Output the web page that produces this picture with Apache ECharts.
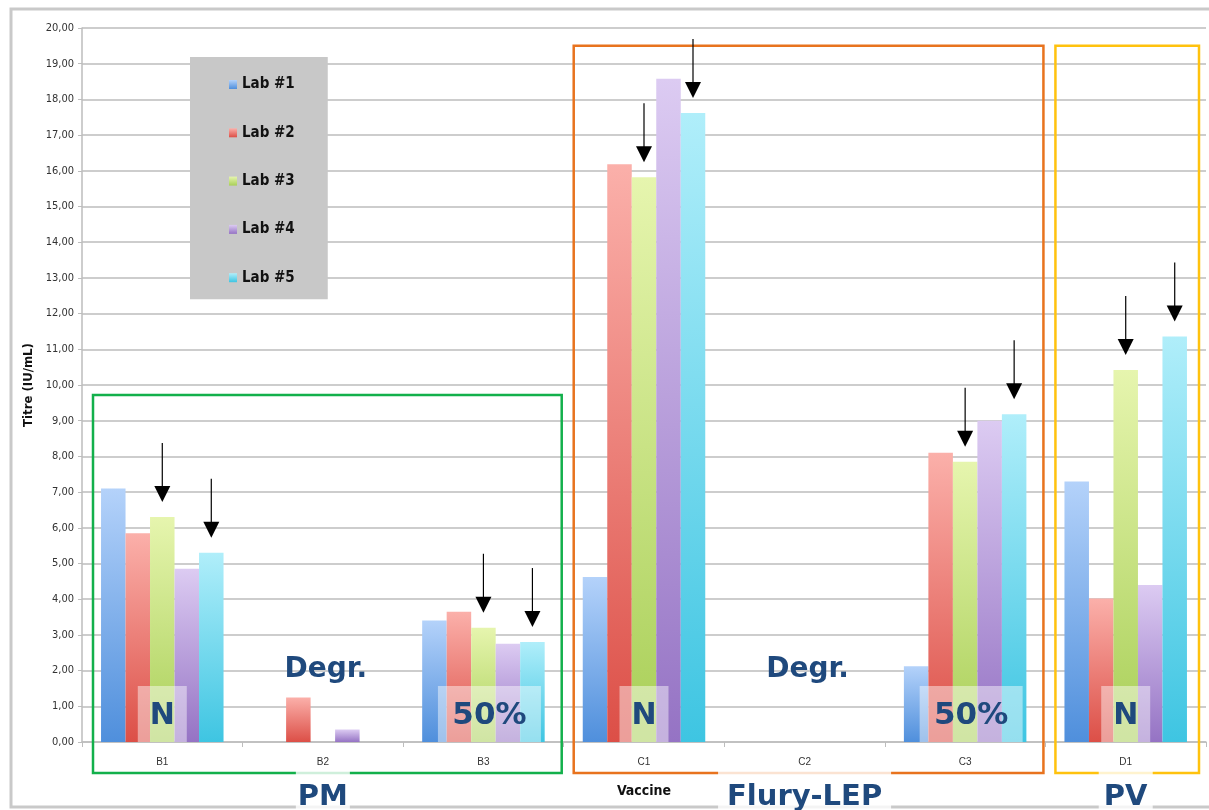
<!DOCTYPE html>
<html><head><meta charset="utf-8">
<script src="https://cdn.jsdelivr.net/npm/echarts@6/dist/echarts.min.js"></script>
<style>html,body{margin:0;padding:0;background:#fff}#c{width:1209px;height:810px}</style>
</head><body><div id="c"></div>
<script>
const categories = ['B1', 'B2', 'B3', 'C1', 'C2', 'C3', 'D1'];
const seriesNames = ['Lab #1', 'Lab #2', 'Lab #3', 'Lab #4', 'Lab #5'];
const lab1 = [7.10, 0, 3.40, 4.62, 0, 2.12, 7.30];
const lab2 = [5.85, 1.25, 3.65, 16.18, 0, 8.10, 4.02];
const lab3 = [6.30, 0, 3.20, 15.82, 0, 7.85, 10.42];
const lab4 = [4.85, 0.35, 2.75, 18.58, 0, 9.00, 4.40];
const lab5 = [5.30, 0, 2.80, 17.62, 0, 9.18, 11.36];
const yAxisName = 'Titre (IU/mL)';
// arrows: [category index, series index]
const arrows = [[0, 2], [0, 4], [2, 2], [2, 4], [3, 2], [3, 4], [5, 2], [5, 4], [6, 2], [6, 4]];
// in-bar notes: [category index, text]
const barNotes = [[0, 'N'], [2, '50%'], [3, 'N'], [5, '50%'], [6, 'N']];
const degrNotes = [[1, 'Degr.'], [4, 'Degr.']];
// groups: [first category, last category, name, top value]
const groups = [[0, 2, 'PM', 9.72], [3, 5, 'Flury-LEP', 19.5], [6, 6, 'PV', 19.5]];
const groupColors = ['#13b04b', '#e8731e', '#ffc20e'];

const allData = [lab1, lab2, lab3, lab4, lab5];
const grads = [
  ['#b4d2fa', '#4f8fdc'],
  ['#fbb0aa', '#dc4f47'],
  ['#e6f5ae', '#a9cf58'],
  ['#dccbf2', '#9573c4'],
  ['#b0eefa', '#3ec5e2']
];
const FONT_NARROW = '"Liberation Sans Narrow", "DejaVu Sans Condensed", sans-serif';
const BAR_W = 24.5;

const chart = echarts.init(document.getElementById('c'), null, {renderer: 'canvas'});
const grid = {left: 82, right: 3, top: 28, bottom: 68};

chart.setOption({
  animation: false,
  backgroundColor: '#ffffff',
  grid: grid,
  legend: {
    orient: 'vertical', left: 190, top: 57,
    backgroundColor: '#c8c8c8',
    padding: [20, 33, 14, 39],
    itemGap: 33.3, itemWidth: 8, itemHeight: 9,
    icon: 'rect',
    textStyle: {fontFamily: FONT_NARROW, fontWeight: 'bold', fontSize: 15, color: '#111'},
    data: seriesNames
  },
  xAxis: {
    type: 'category', data: categories,
    axisLine: {lineStyle: {color: '#bdbdbd', width: 1.5}},
    axisTick: {show: true, length: 5, lineStyle: {color: '#bdbdbd'}},
    axisLabel: {fontSize: 10, color: '#333', margin: 15, fontFamily: 'Liberation Sans, sans-serif'}
  },
  yAxis: {
    type: 'value', min: 0, max: 20, interval: 1,
    name: yAxisName, nameLocation: 'middle', nameGap: 45, nameRotate: 90,
    nameTextStyle: {fontWeight: 'bold', fontSize: 13, color: '#111', fontFamily: FONT_NARROW},
    axisLine: {show: true, lineStyle: {color: '#bdbdbd', width: 1.5}},
    axisTick: {show: true, length: 4, lineStyle: {color: '#bdbdbd'}},
    axisLabel: {fontSize: 11, color: '#333', margin: 8, fontFamily: FONT_NARROW,
      formatter: v => v.toFixed(2).replace('.', ',')},
    splitLine: {lineStyle: {color: '#cdcdcd', width: 2}}
  },
  series: allData.map((d, i) => ({
    name: seriesNames[i], type: 'bar', data: d,
    barWidth: BAR_W, barGap: '0%',
    itemStyle: {
      color: new echarts.graphic.LinearGradient(0, 0, 0, 1, [
        {offset: 0, color: grads[i][0]}, {offset: 1, color: grads[i][1]}
      ])
    }
  }))
});

function px(cat, val) { return chart.convertToPixel({xAxisIndex: 0, yAxisIndex: 0}, [cat, val]); }
const plotW = 1209 - grid.left - grid.right;
const catW = plotW / categories.length;
const g = [];

// frame
g.push({type: 'polyline', shape: {points: [[1209, 9], [11, 9], [11, 807], [1209, 807]]},
  style: {stroke: '#c9c9c9', lineWidth: 3, fill: null}, z: 1});

// group boxes
groups.forEach((gr, k) => {
  const x0 = px(gr[0], 0)[0] - catW / 2;
  const x1 = px(gr[1], 0)[0] + catW / 2;
  const yTop = px(gr[0], gr[3])[1];
  const left = x0 + (k === 0 ? 11 : 10);
  const right = x1 - (k === 2 ? 7 : 2);
  g.push({type: 'rect', shape: {x: left, y: yTop, width: right - left, height: 773 - yTop},
    style: {stroke: groupColors[k], lineWidth: 2.5, fill: null}, z: 10});
  const cx = (px(gr[0], 0)[0] + px(gr[1], 0)[0]) / 2;
  const w = gr[2].length * 17 + 20;
  g.push({type: 'rect', shape: {x: cx - w / 2, y: 769, width: w, height: 41},
    style: {fill: 'rgba(255,255,255,0.8)'}, z: 11});
  g.push({type: 'text', x: cx, y: 797, style: {text: gr[2], fill: '#1f497d',
    font: 'bold 29px "DejaVu Sans", sans-serif', align: 'center', verticalAlign: 'middle'}, z: 12});
});

// Vaccine label
g.push({type: 'text', x: px(3, 0)[0], y: 791, style: {text: 'Vaccine', fill: '#111',
  font: 'bold 14px ' + FONT_NARROW, align: 'center', verticalAlign: 'middle'}, z: 12});

// in-bar notes
barNotes.forEach(n => {
  const p = px(n[0], 0);
  const w = n[1].length > 1 ? 103 : 49;
  g.push({type: 'rect', shape: {x: p[0] - w / 2 + (n[1].length > 1 ? 6 : 0), y: 686, width: w, height: 56},
    style: {fill: 'rgba(255,255,255,0.45)'}, z: 10});
  g.push({type: 'text', x: p[0] + (n[1].length > 1 ? 6 : 0), y: 716, style: {text: n[1], fill: '#1f497d',
    font: 'bold ' + (n[1].length > 1 ? 31 : 30) + 'px "DejaVu Sans", sans-serif', align: 'center', verticalAlign: 'middle'}, z: 11});
});
degrNotes.forEach(n => {
  const p = px(n[0], 0);
  g.push({type: 'text', x: p[0] + 3, y: 670, style: {text: n[1], fill: '#1f497d',
    font: 'bold 28px "DejaVu Sans", sans-serif', align: 'center', verticalAlign: 'middle'}, z: 11});
});

// arrows
arrows.forEach(a => {
  const val = allData[a[1]][a[0]];
  const p = px(a[0], val);
  const x = p[0] + (a[1] - 2) * BAR_W;
  const tip = p[1] - 15;
  const head = 16, len = 59;
  g.push({type: 'line', shape: {x1: x, y1: tip - len, x2: x, y2: tip - head + 2},
    style: {stroke: '#000', lineWidth: 1.2}, z: 20});
  g.push({type: 'polygon', shape: {points: [[x - 8, tip - head], [x + 8, tip - head], [x, tip]]},
    style: {fill: '#000'}, z: 20});
});

chart.setOption({graphic: g});
</script>
</body></html>
